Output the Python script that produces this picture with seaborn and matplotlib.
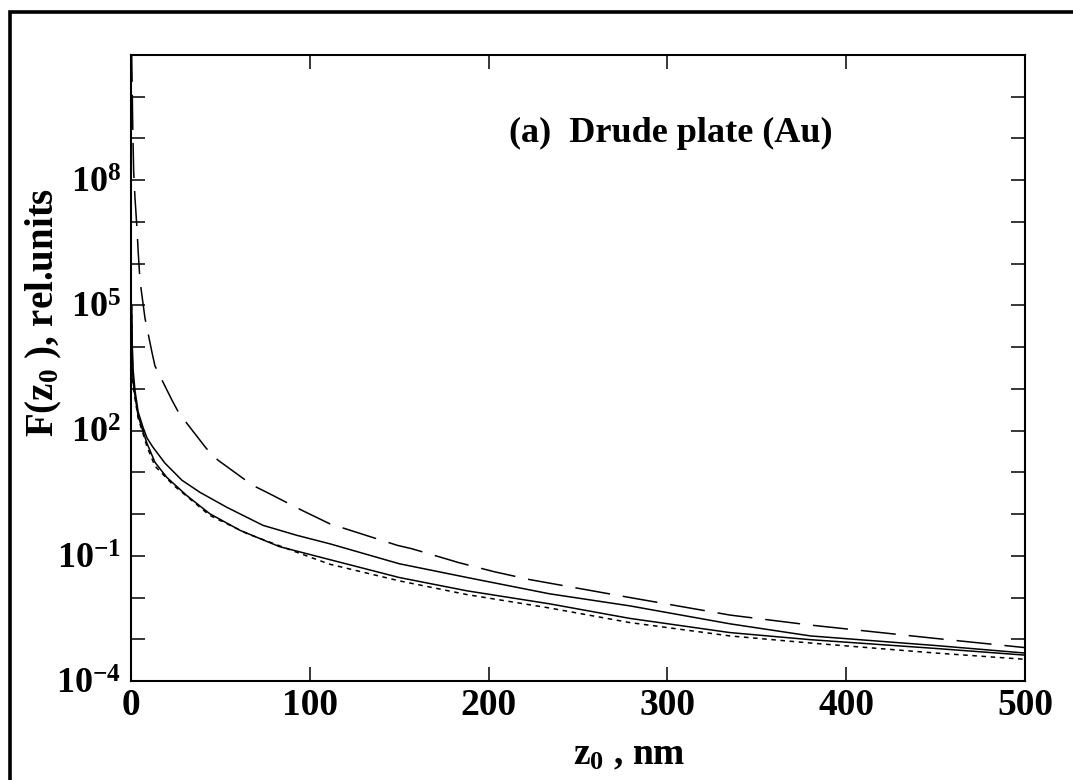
import numpy as np
import pandas as pd
import matplotlib
matplotlib.use("Agg")
import matplotlib.pyplot as plt
import seaborn as sns
from matplotlib.ticker import FixedLocator, FuncFormatter, NullLocator
from matplotlib.patches import Rectangle

# ---------------- data ----------------
# z0 in nm, log10 of F(z0) in relative units
z_dash = [0.3, 0.6, 1.0, 1.5, 2.2, 2.8, 3.4, 4.0, 5.0, 7.8, 11.7, 13.4, 22.9, 26.8,
          42, 48.7, 68, 76, 95.6, 111, 130, 149, 157, 176, 183, 203, 223, 279,
          335, 380, 450, 500]
lg_dash = [11.2, 10.4, 9.2, 8.2, 7.6, 7.2, 6.8, 6.3, 5.6, 4.7, 3.88, 3.55, 2.73, 2.42,
           1.58, 1.29, 0.69, 0.52, 0.09, -0.23, -0.49, -0.75, -0.83, -1.07, -1.16,
           -1.38, -1.57, -2.0, -2.42, -2.66, -2.98, -3.2]

z_sol1 = [0.3, 0.6, 1.1, 2.2, 4, 6.7, 9, 12.3, 19, 28.5, 38.6, 53.7, 73.8, 92.8,
          111, 150, 188, 234, 279, 335, 380, 450, 500]
lg_sol1 = [5.0, 4.2, 3.5, 2.97, 2.45, 2.08, 1.82, 1.6, 1.22, 0.81, 0.52, 0.16, -0.27,
           -0.51, -0.71, -1.19, -1.52, -1.91, -2.2, -2.63, -2.92, -3.15, -3.33]

z_sol2 = [0.3, 0.6, 1.1, 2.5, 4, 6.2, 8.9, 13.4, 20, 31, 44, 61, 83, 111, 150, 188,
          234, 279, 335, 380, 450, 500]
lg_sol2 = [5.0, 4.1, 3.2, 2.75, 2.35, 2.05, 1.7, 1.24, 0.88, 0.45, 0.01, -0.39, -0.78,
           -1.09, -1.52, -1.84, -2.15, -2.5, -2.84, -3.01, -3.22, -3.38]

z_dot = [0.3, 0.6, 1.1, 2.5, 4, 6.2, 8.9, 13.4, 23.5, 44, 65, 93, 111, 150, 188, 234,
         279, 335, 380, 450, 500]
lg_dot = [5.0, 4.0, 3.1, 2.7, 2.3, 2.0, 1.62, 1.15, 0.7, -0.03, -0.47, -0.92, -1.2,
          -1.6, -1.93, -2.25, -2.6, -2.92, -3.09, -3.33, -3.48]

x_ticks = [0, 100, 200, 300, 400, 500]
y_decades = list(range(-4, 12))
y_labeled = [-4, -1, 2, 5, 8]

series = {"dashed": (z_dash, lg_dash), "solid1": (z_sol1, lg_sol1),
          "solid2": (z_sol2, lg_sol2), "dotted": (z_dot, lg_dot)}
frames = []
for name, (zz, lg) in series.items():
    frames.append(pd.DataFrame({"z": zz, "F": 10.0 ** np.array(lg), "curve": name}))
df = pd.concat(frames, ignore_index=True)

# ---------------- style ----------------
sns.set_style("ticks")
plt.rcParams["font.family"] = ["Liberation Serif", "DejaVu Serif"]
plt.rcParams["font.weight"] = "bold"
plt.rcParams["text.color"] = "black"
plt.rcParams["axes.labelcolor"] = "black"
plt.rcParams["xtick.color"] = "black"
plt.rcParams["ytick.color"] = "black"
plt.rcParams["mathtext.fontset"] = "custom"
plt.rcParams["mathtext.rm"] = "Liberation Serif"
plt.rcParams["mathtext.bf"] = "Liberation Serif:bold"
plt.rcParams["mathtext.it"] = "Liberation Serif:italic"

fig = plt.figure(figsize=(10.73, 7.80), dpi=100)
ax = fig.add_axes([131 / 1073, 1 - 681 / 780, (1025 - 131) / 1073, (681 - 55) / 780])
ax.set_yscale("log")

sns.lineplot(data=df, x="z", y="F", style="curve", estimator=None, sort=False,
             color="black", linewidth=1.1, ax=ax, legend=False,
             dashes={"dashed": (23, 8.5), "solid1": "", "solid2": "", "dotted": (3, 3)},
             style_order=["dashed", "solid1", "solid2", "dotted"])

ax.set_xlim(0, 500)
ax.set_ylim(1e-4, 1e11)
ax.set_xticks(x_ticks)
ax.set_xticklabels([str(t) for t in x_ticks])
ax.yaxis.set_major_locator(FixedLocator([10.0 ** d for d in y_decades]))
ax.yaxis.set_minor_locator(NullLocator())


def yfmt(v, pos):
    e = int(round(np.log10(v)))
    if e in y_labeled:
        return r"$\mathbf{10}^{%d}$" % e
    return ""


ax.yaxis.set_major_formatter(FuncFormatter(yfmt))
ax.set_xlabel("")
ax.set_ylabel("")

ax.tick_params(axis="both", which="major", direction="in", length=10, width=1.1,
               top=True, right=True, colors="black")
ax.tick_params(axis="x", pad=5, labelsize=27)
ax.tick_params(axis="y", pad=7, labelsize=26)
for lab in ax.get_xticklabels():
    lab.set_fontweight("bold")
for sp in ax.spines.values():
    sp.set_linewidth(1.5)
    sp.set_color("black")

fig.text(44 / 1073, 1 - 312 / 780, r"F(z$_{\mathrm{0}}$ ), rel.units", rotation=90,
         ha="center", va="center", fontsize=28, fontweight="bold")
fig.text(629 / 1073, 1 - 755 / 780, r"z$_{\mathrm{0}}$ , nm", ha="center",
         va="center", fontsize=27, fontweight="bold")
fig.text(671 / 1073, 1 - 133 / 780, "(a)  Drude plate (Au)", ha="center", va="center",
         fontsize=26, fontweight="bold")

frame = Rectangle((10 / 1073, -0.1), 1.2, 1 - 12 / 780 + 0.1, transform=fig.transFigure,
                  fill=False, linewidth=2.6, edgecolor="black", clip_on=False)
fig.add_artist(frame)

fig.savefig("out.png", dpi=100)
